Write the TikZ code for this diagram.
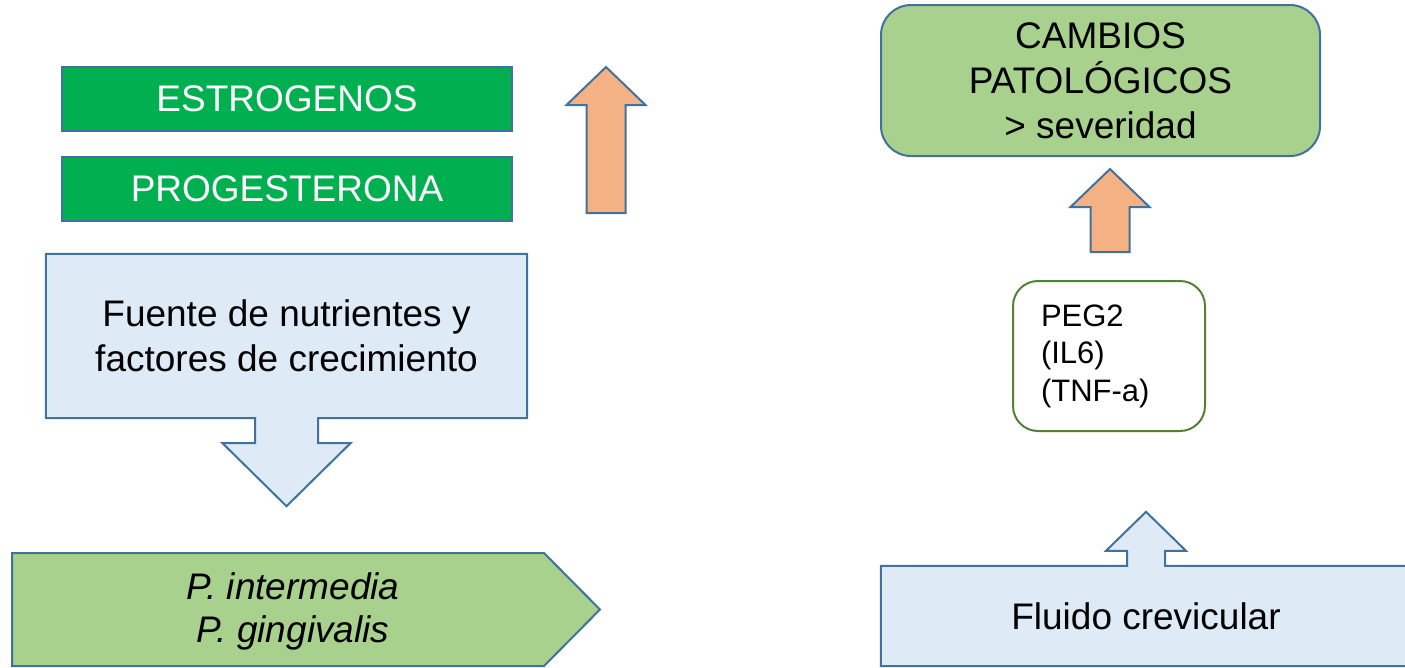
\documentclass[tikz,border=0pt]{standalone}
\usepackage{fontspec}
\setmainfont{Liberation Sans}
\usetikzlibrary{positioning, calc, backgrounds}
\definecolor{hormonegreen}{RGB}{0, 176, 80}
\definecolor{outline}{RGB}{65, 113, 156}
\definecolor{increase}{RGB}{244, 177, 131}
\definecolor{paleblue}{RGB}{222, 235, 247}
\definecolor{palegreen}{RGB}{169, 209, 142}
\definecolor{darkgreen}{RGB}{84, 130, 53}

\begin{document}
\begin{tikzpicture}[x=1pt, y=-1pt,
        big/.style={font=\fontsize{37}{45}\selectfont, align=center, inner sep=0pt},
        hormone/.style={big, rectangle, fill=hormonegreen, draw=outline, line width=2pt, minimum width=450pt, minimum height=64pt, text=white},
        calloutbox/.style={fill=paleblue, draw=outline, line width=2pt, line join=miter},
        tagbox/.style={fill=palegreen, draw=outline, line width=2pt},
        uparrow/.style={fill=increase, draw=outline, line width=2pt}
    ]
    \useasboundingbox (0,0) rectangle (1405,667);

    % left column
    \node[hormone] (estro) at (287,99) {ESTROGENOS};
    \node[hormone, below=24pt of estro] (proges) {PROGESTERONA};

    \node[big, minimum width=481pt, minimum height=164pt] (fuente) at (286.5,336)
        {Fuente de nutrientes y\\factores de crecimiento};
    \node[big, font=\fontsize{37}{43}\selectfont\itshape] (bacteria) at (293,611)
        {P. intermedia\\P. gingivalis};

    % right column
    \node[big, tagbox, rounded corners=30pt, minimum width=439pt, minimum height=151pt] (cambios) at (1100.5,80.5)
        {CAMBIOS\\PATOLÓGICOS\\> severidad};
    \node[rounded corners=25pt, draw=darkgreen, line width=2pt, fill=white, align=left,
          font=\fontsize{31}{37.5}\selectfont, text width=136pt, inner xsep=28pt, inner ysep=0pt,
          minimum height=150pt] (peg) at (1109,356) {PEG2\\(IL6)\\(TNF-a)};
    \node[big, minimum width=530pt, minimum height=100pt] (fluido) at (1146,616) {Fluido crevicular};

    \begin{scope}[on background layer]
        \draw[calloutbox] (fuente.north west) -- (fuente.north east) -- (fuente.south east)
            -- ($(fuente.south)+(31.5,0)$) -- ++(0,25) -- ++(32.5,0) -- ($(fuente.south)+(0,88)$)
            -- ($(fuente.south)+(-64,25)$) -- ++(32.5,0) -- ($(fuente.south)+(-31.5,0)$)
            -- (fuente.south west) -- cycle;
        \draw[tagbox, line join=miter] (12,553) -- (544,553) -- (600,609.5) -- (544,666) -- (12,666) -- cycle;
        \draw[calloutbox] (fluido.south west) -- (fluido.north west)
            -- ($(fluido.north)+(-19,0)$) -- ++(0,-15) -- ++(-21,0) -- ($(fluido.north)+(0,-54)$)
            -- ($(fluido.north)+(40,-15)$) -- ++(-21,0) -- ($(fluido.north)+(19,0)$)
            -- (fluido.north east) -- (fluido.south east) -- cycle;
    \end{scope}

    \foreach \cx/\ytop/\ybot in {606/67/213, 1110/169/252}
        \draw[uparrow] (\cx,\ytop) -- ++(39.5,38) -- ++(-20,0) -- (\cx+19.5,\ybot)
            -- (\cx-19.5,\ybot) -- (\cx-19.5,\ytop+38) -- ++(-20,0) -- cycle;
\end{tikzpicture}
\end{document}
